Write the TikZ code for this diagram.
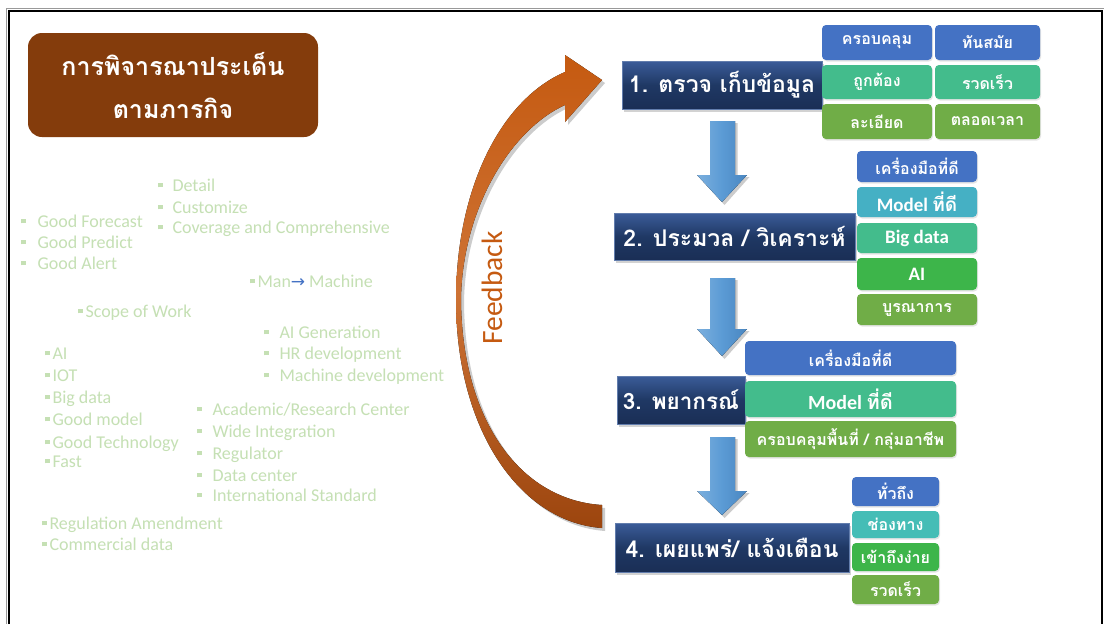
\documentclass[tikz,border=0pt]{standalone}
\usepackage{fontspec}
\setmainfont{Carlito}
\newfontfamily\thai[Script=Thai]{Loma}
\newfontfamily\dejavu{DejaVu Sans}
\usetikzlibrary{shadows}
\definecolor{titlebrown}{HTML}{843C0C}
\definecolor{navy}{HTML}{1F3864}
\definecolor{navytop}{HTML}{3B5C99}
\definecolor{navybot}{HTML}{1A2E55}
\definecolor{cblue}{HTML}{4472C4}
\definecolor{cmint}{HTML}{43BC8C}
\definecolor{cteal}{HTML}{45B0C4}
\definecolor{cteal2}{HTML}{45BDB6}
\definecolor{cgreen}{HTML}{3DB54A}
\definecolor{colive}{HTML}{70AD47}
\definecolor{paleg}{HTML}{C5E0B4}
\definecolor{arrblue}{HTML}{5B9BD5}
\definecolor{arrbluedark}{HTML}{4A86C0}
\definecolor{fbtop}{HTML}{C55A11}
\definecolor{fbbot}{HTML}{9C450E}
\definecolor{manarrow}{HTML}{4472C4}
\newcommand\sqb{\rule[0.2em]{0.24em}{0.24em}}
\begin{document}
\begin{tikzpicture}[x=1pt,y=-1pt,
  lt/.style={anchor=base west, inner sep=0, text=paleg, font=\fontsize{18}{20}\selectfont},
  stepbox/.style={rectangle, inner sep=0, text=white, draw=navytop!80!white, line width=0.8pt,
    top color=navytop, bottom color=navybot, middle color=navy,
    font=\thai\bfseries\fontsize{23}{25}\selectfont,
    drop shadow={opacity=0.35, shadow xshift=2pt, shadow yshift=-3pt}},
  sbox/.style={rectangle, rounded corners=4pt, inner sep=0, text=white,
    font=\thai\bfseries\fontsize{16}{18}\selectfont,
    drop shadow={opacity=0.2, shadow xshift=1pt, shadow yshift=-1.5pt}},
  sboxlat/.style={sbox, font=\bfseries\fontsize{19}{21}\selectfont}]
\useasboundingbox (0,0) rectangle (1105,624);
\fill[white] (0,0) rectangle (1105,624);
% frame
\draw[black!40, line width=1pt] (6.5,624) -- (6.5,8.5) -- (1104,8.5);
\draw[black, line width=2.5pt] (9,624) -- (9,11) -- (1102,11) -- (1102,624);

% title
\node[rectangle, rounded corners=14pt, fill=titlebrown, minimum width=290, minimum height=104,
  text=white, align=center, font=\thai\bfseries\fontsize{25}{43}\selectfont] (title) at (173,85)
  {การพิจารณาประเด็น\\ตามภารกิจ};

% left texts
\node[lt] (t1) at (158,191) {\sqb\hspace{10pt}Detail};
\node[lt] (t2) at (158,213) {\sqb\hspace{10pt}Customize};
\node[lt] (t3) at (158,233) {\sqb\hspace{10pt}Coverage and Comprehensive};
\node[lt] (t4) at (21,227) {\sqb\hspace{12pt}Good Forecast};
\node[lt] (t5) at (21,248) {\sqb\hspace{12pt}Good Predict};
\node[lt] (t6) at (21,269) {\sqb\hspace{12pt}Good Alert};
\node[lt] (t7) at (250,287) {\sqb\hspace{3pt}Man{\color{manarrow}\dejavu\fontsize{17}{19}\selectfont→}\hspace{4pt}Machine};
\node[lt] (t8) at (78,317) {\sqb\hspace{3pt}Scope of Work};
\node[lt] (t9) at (264,338) {\sqb\hspace{11pt}AI Generation};
\node[lt] (t10) at (264,359) {\sqb\hspace{11pt}HR development};
\node[lt] (t11) at (264,381) {\sqb\hspace{11pt}Machine development};
\node[lt] (t12) at (45,359) {\sqb\hspace{3pt}AI};
\node[lt] (t13) at (45,381) {\sqb\hspace{3pt}IOT};
\node[lt] (t14) at (45,403) {\sqb\hspace{3pt}Big data};
\node[lt] (t15) at (45,425) {\sqb\hspace{3pt}Good model};
\node[lt] (t16) at (45,448) {\sqb\hspace{3pt}Good Technology};
\node[lt] (t17) at (45,467) {\sqb\hspace{3pt}Fast};
\node[lt] (t18) at (197,415) {\sqb\hspace{11pt}Academic/Research Center};
\node[lt] (t19) at (197,437) {\sqb\hspace{11pt}Wide Integration};
\node[lt] (t20) at (197,459) {\sqb\hspace{11pt}Regulator};
\node[lt] (t21) at (197,481) {\sqb\hspace{11pt}Data center};
\node[lt] (t22) at (197,501) {\sqb\hspace{11pt}International Standard};
\node[lt] (t23) at (42,529) {\sqb\hspace{3pt}Regulation Amendment};
\node[lt] (t24) at (42,550) {\sqb\hspace{3pt}Commercial data};

% feedback arrow
\fill[black!20] (605,531) .. controls (523,525) and (459,433) .. (459,303) .. controls (459,193) and (503,103) .. (568,75)
  -- (568,58) -- (605,83) -- (568,125) -- (568,108) .. controls (513,133) and (465,213) .. (464,303)
  .. controls (465,423) and (523,503) .. (605,508) -- cycle;
\fill[top color=fbtop, bottom color=fbbot, middle color=fbtop!85!white] (602,528) .. controls (520,522) and (456,430) .. (456,300) .. controls (456,190) and (500,100) .. (565,72)
  -- (565,55) -- (602,80) -- (565,122) -- (565,105) .. controls (510,130) and (462,210) .. (461,300)
  .. controls (462,420) and (520,500) .. (602,505) -- cycle;
\node[rotate=90, text=fbtop, font=\fontsize{29.5}{31}\selectfont] (fb) at (492,288) {Feedback};

% step boxes
\node[stepbox, minimum width=200, minimum height=48] (s1) at (722,85) {1. ตรวจ เก็บข้อมูล};
\node[stepbox, minimum width=241, minimum height=47] (s2) at (734.5,236.5) {2. ประมวล / วิเคราะห์};
\node[stepbox, minimum width=128, minimum height=48, font=\thai\bfseries\fontsize{22.5}{25}\selectfont] (s3) at (681,400) {3. พยากรณ์};
\node[stepbox, minimum width=234, minimum height=49] (s4) at (732,547.5) {4. เผยแพร่/ แจ้งเตือน};

% block arrows between steps
\foreach \top/\base/\tip in {121/175/202, 278/329/356, 437/491/515}{
  \fill[black!20] (712.5,\top+2) -- (737.5,\top+2) -- (737.5,\base+2) -- (749.5,\base+2) -- (724.5,\tip+3) -- (699.5,\base+2) -- (712.5,\base+2) -- cycle;
  \fill[left color=arrblue!80!white, right color=arrbluedark, middle color=arrblue] (710,\top) -- (735,\top) -- (735,\base) -- (747,\base) -- (722,\tip) -- (697,\base) -- (710,\base) -- cycle;
}

% step 1 boxes
\node[sbox, fill=cblue, minimum width=110, minimum height=35] (a1) at (877,42.5) {ครอบคลุม};
\node[sbox, fill=cblue, minimum width=105, minimum height=35] (a2) at (987.5,42.5) {ทันสมัย};
\node[sbox, fill=cmint, minimum width=110, minimum height=34] (a3) at (877,82) {ถูกต้อง};
\node[sbox, fill=cmint, minimum width=105, minimum height=34] (a4) at (987.5,82) {รวดเร็ว};
\node[sbox, fill=colive, minimum width=110, minimum height=35] (a5) at (877,121.5) {ละเอียด};
\node[sbox, fill=colive, minimum width=105, minimum height=35] (a6) at (987.5,121.5) {ตลอดเวลา};

% step 2 boxes
\node[sbox, fill=cblue, minimum width=120, minimum height=31] (b1) at (917,166.5) {เครื่องมือที่ดี};
\node[sboxlat, fill=cteal, minimum width=120, minimum height=30] (b2) at (917,202) {Model {\thai ที่ดี}};
\node[sboxlat, fill=cmint, minimum width=120, minimum height=30] (b3) at (917,238) {Big data};
\node[sboxlat, fill=cgreen, minimum width=120, minimum height=32] (b4) at (917,274) {AI};
\node[sbox, fill=colive, minimum width=120, minimum height=31] (b5) at (917,309.5) {บูรณาการ};

% step 3 boxes
\node[sbox, fill=cblue, minimum width=211, minimum height=34] (c1) at (850.5,358) {เครื่องมือที่ดี};
\node[sboxlat, fill=cmint, minimum width=211, minimum height=36, font=\bfseries\fontsize{20}{22}\selectfont] (c2) at (850.5,399) {Model {\thai ที่ดี}};
\node[sbox, fill=colive, minimum width=211, minimum height=36] (c3) at (850.5,439) {ครอบคลุมพื้นที่ / กลุ่มอาชีพ};

% step 4 boxes
\node[sbox, fill=cblue, minimum width=87, minimum height=29] (d1) at (895.5,491.5) {ทั่วถึง};
\node[sbox, fill=cteal2, minimum width=87, minimum height=27] (d2) at (895.5,524.5) {ช่องทาง};
\node[sbox, fill=cgreen, minimum width=87, minimum height=28] (d3) at (895.5,557) {เข้าถึงง่าย};
\node[sbox, fill=colive, minimum width=87, minimum height=29] (d4) at (895.5,589.5) {รวดเร็ว};
\end{tikzpicture}
\end{document}
